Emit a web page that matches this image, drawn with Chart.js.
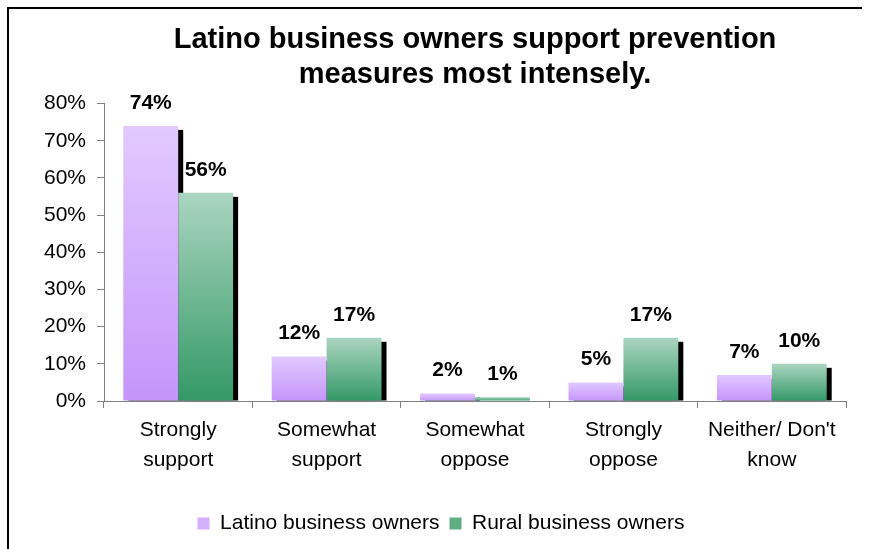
<!DOCTYPE html>
<html>
<head>
<meta charset="utf-8">
<script src="https://cdn.jsdelivr.net/npm/chart.js@4/dist/chart.umd.min.js"></script>
<style>
  body { margin: 0; background: #fff; }
  #wrap { width: 871px; height: 549px; }
</style>
</head>
<body>
<div id="wrap"><canvas id="chart" width="871" height="549"></canvas></div>
<script>
// chart data
const categories = [
  ["Strongly", "support"],
  ["Somewhat", "support"],
  ["Somewhat", "oppose"],
  ["Strongly", "oppose"],
  ["Neither/ Don't", "know"]
];
const latinoValues = [74, 12, 2, 5, 7];
const ruralValues = [56, 17, 1, 17, 10];
const seriesNames = ["Latino business owners", "Rural business owners"];
const titleLines = ["Latino business owners support prevention", "measures most intensely."];

Chart.defaults.color = "#000";
Chart.defaults.font.family = "'Liberation Sans', Arial, sans-serif";

// vertical gradient per bar, light on top, darker at the base
const barGradient = (top, bottom) => (ctx) => {
  const chart = ctx.chart;
  const y = chart.scales.y;
  if (!chart.chartArea || !y || ctx.raw == null) return bottom;
  const y0 = y.getPixelForValue(ctx.raw);
  const y1 = y.getPixelForValue(0);
  if (y1 - y0 < 1) return bottom;
  const g = chart.ctx.createLinearGradient(0, y0, 0, y1);
  g.addColorStop(0, top);
  g.addColorStop(1, bottom);
  return g;
};

// black drop shadow behind every bar
const shadowPlugin = {
  id: "shadow",
  beforeDatasetsDraw(chart) {
    const ctx = chart.ctx;
    ctx.save();
    ctx.fillStyle = "#000";
    chart.data.datasets.forEach((ds, i) => {
      chart.getDatasetMeta(i).data.forEach((bar) => {
        const w = bar.width;
        const h = bar.base - bar.y - 4;
        if (h > 0) ctx.fillRect(bar.x - w / 2 + 5, bar.y + 4, w, h);
      });
    });
    ctx.restore();
  }
};

// value labels above the bars
const valueLabels = {
  id: "valueLabels",
  afterDatasetsDraw(chart) {
    const ctx = chart.ctx;
    ctx.save();
    ctx.font = "bold 21px 'Liberation Sans', Arial, sans-serif";
    ctx.fillStyle = "#000";
    ctx.textAlign = "center";
    ctx.textBaseline = "middle";
    chart.data.datasets.forEach((ds, i) => {
      chart.getDatasetMeta(i).data.forEach((bar, j) => {
        ctx.fillText(ds.data[j] + "%", bar.x, bar.y - 23);
      });
    });
    ctx.restore();
  }
};

// outer frame (top and left edges are visible)
const framePlugin = {
  id: "frame",
  afterDraw(chart) {
    const ctx = chart.ctx;
    ctx.save();
    ctx.strokeStyle = "#000";
    ctx.lineWidth = 2;
    ctx.beginPath();
    ctx.moveTo(8, 549);
    ctx.lineTo(8, 8);
    ctx.lineTo(862, 8);
    ctx.stroke();
    ctx.restore();
  }
};

new Chart(document.getElementById("chart"), {
  type: "bar",
  data: {
    labels: categories,
    datasets: [
      {
        label: seriesNames[0],
        data: latinoValues,
        backgroundColor: barGradient("#E2C9FF", "#C595FA"),
        legendColor: "#D4AFFC",
        categoryPercentage: 0.74,
        barPercentage: 1
      },
      {
        label: seriesNames[1],
        data: ruralValues,
        backgroundColor: barGradient("#ABD5C1", "#339966"),
        legendColor: "#5FAE85",
        categoryPercentage: 0.74,
        barPercentage: 1
      }
    ]
  },
  options: {
    responsive: false,
    animation: false,
    layout: { padding: { left: 36, right: 25, top: 0, bottom: 5 } },
    plugins: {
      title: {
        display: true,
        fullSize: false,
        text: titleLines,
        font: { size: 29, weight: "bold", lineHeight: 1.2 },
        color: "#000",
        padding: { top: 23, bottom: 11 }
      },
      legend: {
        position: "bottom",
        labels: {
          font: { size: 21 },
          boxWidth: 12,
          boxHeight: 12,
          padding: 10,
          generateLabels(chart) {
            return chart.data.datasets.map((ds, i) => ({
              text: ds.label,
              fillStyle: ds.legendColor,
              strokeStyle: ds.legendColor,
              lineWidth: 0,
              datasetIndex: i
            }));
          }
        }
      },
      tooltip: { enabled: false }
    },
    scales: {
      x: {
        grid: { drawOnChartArea: false, drawTicks: true, tickLength: 7, color: "#808080", offset: true },
        border: { color: "#808080", width: 1 },
        ticks: { font: { size: 21, lineHeight: 1.43 }, padding: 7, maxRotation: 0, autoSkip: false },
        afterFit(scale) { scale.height = 102; }
      },
      y: {
        min: 0,
        max: 80,
        grid: { drawOnChartArea: false, drawTicks: true, tickLength: 7, color: "#808080" },
        border: { color: "#808080", width: 1 },
        ticks: {
          stepSize: 10,
          font: { size: 21 },
          padding: 11,
          callback: (v) => v + "%"
        },
        afterFit(scale) { scale.width = 68; }
      }
    }
  },
  plugins: [shadowPlugin, valueLabels, framePlugin]
});
</script>
</body>
</html>
